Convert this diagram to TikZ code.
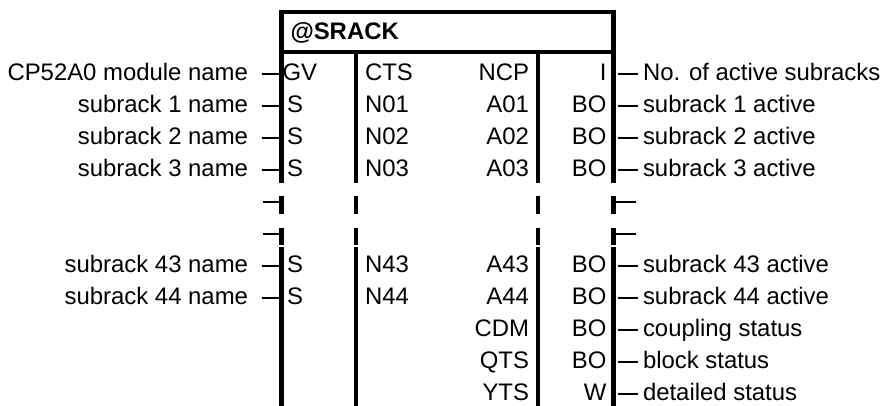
\documentclass[tikz,border=0pt]{standalone}
\usepackage{fontspec}
\setmainfont{Liberation Sans}
\begin{document}
\begin{tikzpicture}[x=1pt,y=-1pt,
  every node/.style={inner sep=0pt, outer sep=0pt, font=\fontsize{23.9}{28}\selectfont},
  boxline/.style={line width=4.6pt},
  pinline/.style={line width=1.5pt},
  lab/.style={anchor=base east},
  rlab/.style={anchor=base west},
  ]
\useasboundingbox (0,0) rectangle (882,406);
% block frame
\def\xL{281.7}\def\xA{355.8}\def\xB{538}\def\xR{613.5}
\draw[boxline, line join=miter] (\xL,183) -- (\xL,12) -- (\xR,12) -- (\xR,183);
\draw[boxline] (\xL,52) -- (\xR,52);
\draw[boxline] (\xA,52) -- (\xA,183);
\draw[boxline] (\xB,52) -- (\xB,183);
\foreach \x in {\xL,\xA,\xB,\xR}{
  \draw[boxline] (\x,196) -- (\x,214);
  \draw[boxline] (\x,228) -- (\x,245);
  \draw[boxline] (\x,247) -- (\x,406);
}
\node[anchor=base west, font=\fontsize{23.9}{28}\selectfont\bfseries] (title) at (290.5,40) {@SRACK};
% rows with input and output
\foreach \k/\xa/\lt/\a/\b/\c/\d/\rt [evaluate=\k as \dy using 74+32*\k] in {
  0/282.5/CP52A0 module name/GV/CTS/NCP/I/No. of active subracks,
  1/287/subrack 1 name/S/N01/A01/BO/subrack 1 active,
  2/287/subrack 2 name/S/N02/A02/BO/subrack 2 active,
  3/287/subrack 3 name/S/N03/A03/BO/subrack 3 active,
  6/287/subrack 43 name/S/N43/A43/BO/subrack 43 active,
  7/287/subrack 44 name/S/N44/A44/BO/subrack 44 active}{
  \coordinate (pl\k) at (\xL,\dy);
  \coordinate (pr\k) at (\xR,\dy);
  \node[lab] (lt\k) at (248,\dy+6.5) {\lt};
  \node[anchor=base west] (a\k) at (\xa,\dy+6.5) {\a};
  \node[anchor=base west] (b\k) at (365,\dy+6.5) {\b};
  \node[anchor=base east] (c\k) at (529,\dy+6.5) {\c};
  \node[anchor=base east] (d\k) at (606.5,\dy+6.5) {\d};
  \node[rlab] (rt\k) at (643,\dy+6.5) {\rt};
  \draw[pinline] (pl\k) -- ++(-19.7,0);
  \draw[pinline] (pr\k) ++(4.5,0) -- ++(20,0);
}
% rows with output only
\foreach \k/\c/\d/\rt [evaluate=\k as \dy using 74+32*\k] in {
  8/CDM/BO/coupling status,
  9/QTS/BO/block status,
  10/YTS/W/detailed status}{
  \coordinate (pr\k) at (\xR,\dy);
  \node[anchor=base east] (c\k) at (529,\dy+6.5) {\c};
  \node[anchor=base east] (d\k) at (606.5,\dy+6.5) {\d};
  \node[rlab] (rt\k) at (643,\dy+6.5) {\rt};
  \draw[pinline] (pr\k) ++(4.5,0) -- ++(20,0);
}
% stubs of the omitted rows
\foreach \k in {4,5}{
  \pgfmathsetmacro\dy{74+32*\k}
  \coordinate (pl\k) at (\xL,\dy);
  \coordinate (pr\k) at (\xR,\dy);
  \draw[pinline] (pl\k) -- ++(-18.7,0);
  \draw[pinline] (pr\k) -- ++(22.5,0);
}
\end{tikzpicture}
\end{document}
